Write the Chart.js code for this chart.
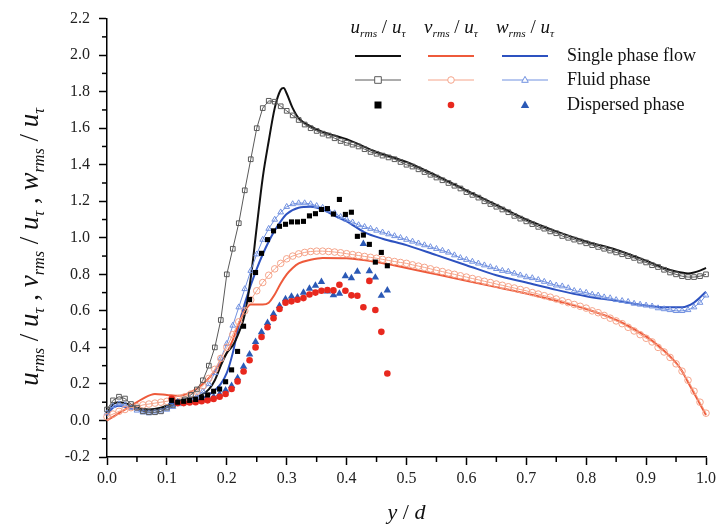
<!DOCTYPE html>
<html>
<head>
<meta charset="utf-8">
<script src="https://cdn.jsdelivr.net/npm/chart.js@4.4.1/dist/chart.umd.min.js"></script>
<style>
  html, body { margin: 0; background: #fff; }
</style>
</head>
<body>
<canvas id="rmsChart" width="720" height="529"></canvas>
<script>
// --- data ---
const xTickStep = 0.1;
const yTickStep = 0.2;

// single phase flow (solid lines)
const singleUX = [0, 0.01, 0.02, 0.03, 0.05, 0.07, 0.09, 0.11, 0.13, 0.15, 0.16, 0.17, 0.18, 0.19, 0.2, 0.21, 0.22, 0.23, 0.24, 0.25, 0.26, 0.27, 0.28, 0.29, 0.295, 0.3, 0.31, 0.32, 0.34, 0.36, 0.38, 0.4, 0.45, 0.5, 0.55, 0.6, 0.65, 0.7, 0.75, 0.8, 0.85, 0.9, 0.93, 0.95, 0.97, 0.98, 0.99, 1.0];
const singleU  = [0.04, 0.09, 0.1, 0.095, 0.07, 0.06, 0.07, 0.095, 0.115, 0.13, 0.145, 0.17, 0.22, 0.3, 0.37, 0.41, 0.48, 0.58, 0.78, 1.06, 1.33, 1.53, 1.71, 1.81, 1.82, 1.79, 1.71, 1.655, 1.61, 1.58, 1.56, 1.54, 1.47, 1.415, 1.34, 1.26, 1.18, 1.1, 1.035, 0.98, 0.935, 0.875, 0.835, 0.815, 0.805, 0.81, 0.82, 0.835];

const singleVX = [0, 0.02, 0.04, 0.06, 0.08, 0.1, 0.12, 0.14, 0.16, 0.18, 0.2, 0.21, 0.22, 0.23, 0.24, 0.25, 0.26, 0.27, 0.28, 0.29, 0.3, 0.31, 0.32, 0.34, 0.36, 0.4, 0.45, 0.5, 0.55, 0.6, 0.65, 0.7, 0.75, 0.8, 0.85, 0.88, 0.9, 0.92, 0.94, 0.95, 0.96, 0.97, 0.98, 0.99, 1.0];
const singleV  = [0.0, 0.04, 0.08, 0.12, 0.145, 0.14, 0.135, 0.155, 0.2, 0.27, 0.37, 0.44, 0.53, 0.6, 0.635, 0.635, 0.635, 0.645, 0.69, 0.75, 0.8, 0.835, 0.86, 0.88, 0.89, 0.888, 0.868, 0.835, 0.8, 0.765, 0.73, 0.695, 0.655, 0.61, 0.55, 0.5, 0.46, 0.41, 0.35, 0.315, 0.27, 0.21, 0.15, 0.09, 0.03];

const singleWX = [0, 0.01, 0.02, 0.03, 0.05, 0.07, 0.09, 0.11, 0.13, 0.15, 0.17, 0.19, 0.2, 0.21, 0.22, 0.23, 0.24, 0.25, 0.26, 0.27, 0.28, 0.29, 0.3, 0.32, 0.34, 0.36, 0.38, 0.4, 0.43, 0.46, 0.5, 0.55, 0.6, 0.65, 0.7, 0.75, 0.8, 0.85, 0.9, 0.93, 0.96, 0.98, 1.0];
const singleW  = [0.03, 0.07, 0.08, 0.075, 0.06, 0.055, 0.065, 0.08, 0.095, 0.11, 0.14, 0.2, 0.26, 0.37, 0.52, 0.64, 0.74, 0.83, 0.91, 0.98, 1.04, 1.09, 1.13, 1.165, 1.17, 1.155, 1.12, 1.09, 1.03, 0.995, 0.96, 0.905, 0.85, 0.795, 0.755, 0.715, 0.68, 0.655, 0.63, 0.62, 0.62, 0.645, 0.705];

// fluid phase (lines with open markers)
const fluidX = [0, 0.01, 0.02, 0.03, 0.04, 0.05, 0.06, 0.07, 0.08, 0.09, 0.1, 0.11, 0.12, 0.13, 0.14, 0.15, 0.16, 0.17, 0.18, 0.19, 0.2, 0.21, 0.22, 0.23, 0.24, 0.25, 0.26, 0.27, 0.28, 0.29, 0.3, 0.31, 0.32, 0.33, 0.34, 0.35, 0.36, 0.37, 0.38, 0.39, 0.4, 0.41, 0.42, 0.43, 0.44, 0.45, 0.46, 0.47, 0.48, 0.49, 0.5, 0.51, 0.52, 0.53, 0.54, 0.55, 0.56, 0.57, 0.58, 0.59, 0.6, 0.61, 0.62, 0.63, 0.64, 0.65, 0.66, 0.67, 0.68, 0.69, 0.7, 0.71, 0.72, 0.73, 0.74, 0.75, 0.76, 0.77, 0.78, 0.79, 0.8, 0.81, 0.82, 0.83, 0.84, 0.85, 0.86, 0.87, 0.88, 0.89, 0.9, 0.91, 0.92, 0.93, 0.94, 0.95, 0.96, 0.97, 0.98, 0.99, 1.0];
const fluidU = [0.06, 0.11, 0.13, 0.12, 0.09, 0.07, 0.05, 0.045, 0.045, 0.05, 0.07, 0.085, 0.1, 0.115, 0.14, 0.17, 0.22, 0.3, 0.4, 0.55, 0.8, 0.94, 1.08, 1.26, 1.43, 1.6, 1.71, 1.75, 1.745, 1.72, 1.695, 1.67, 1.645, 1.62, 1.6, 1.585, 1.57, 1.56, 1.545, 1.53, 1.52, 1.51, 1.5, 1.485, 1.47, 1.46, 1.45, 1.44, 1.43, 1.415, 1.4, 1.39, 1.375, 1.36, 1.345, 1.33, 1.315, 1.3, 1.285, 1.27, 1.25, 1.235, 1.22, 1.2, 1.185, 1.17, 1.155, 1.14, 1.12, 1.105, 1.09, 1.075, 1.06, 1.05, 1.035, 1.025, 1.01, 1.0, 0.99, 0.98, 0.97, 0.96, 0.95, 0.94, 0.93, 0.92, 0.91, 0.9, 0.89, 0.875, 0.865, 0.85, 0.84, 0.825, 0.81, 0.8, 0.79, 0.785, 0.785, 0.79, 0.8];
const fluidV = [0.02, 0.035, 0.05, 0.06, 0.07, 0.075, 0.085, 0.09, 0.095, 0.1, 0.105, 0.11, 0.12, 0.13, 0.145, 0.16, 0.19, 0.23, 0.28, 0.34, 0.4, 0.47, 0.54, 0.6, 0.66, 0.71, 0.755, 0.795, 0.83, 0.86, 0.885, 0.9, 0.912, 0.92, 0.925, 0.927, 0.927, 0.925, 0.922, 0.918, 0.913, 0.908, 0.903, 0.898, 0.893, 0.888, 0.882, 0.876, 0.87, 0.865, 0.86, 0.852, 0.845, 0.838, 0.83, 0.822, 0.815, 0.807, 0.8, 0.792, 0.785, 0.777, 0.77, 0.762, 0.755, 0.747, 0.74, 0.732, 0.725, 0.717, 0.71, 0.7, 0.692, 0.683, 0.675, 0.665, 0.655, 0.645, 0.635, 0.625, 0.615, 0.6, 0.59, 0.575, 0.56, 0.545, 0.53, 0.51, 0.49, 0.47, 0.45, 0.43, 0.4, 0.375, 0.345, 0.31, 0.27, 0.22, 0.16, 0.1, 0.04];
const fluidW = [0.04, 0.08, 0.09, 0.085, 0.07, 0.055, 0.045, 0.04, 0.045, 0.05, 0.06, 0.075, 0.09, 0.1, 0.115, 0.13, 0.16, 0.2, 0.26, 0.34, 0.42, 0.52, 0.62, 0.72, 0.82, 0.91, 0.99, 1.05, 1.1, 1.14, 1.17, 1.185, 1.19, 1.19, 1.185, 1.175, 1.165, 1.15, 1.135, 1.115, 1.1, 1.085, 1.07, 1.06, 1.05, 1.04, 1.03, 1.02, 1.01, 1.0, 0.99, 0.98, 0.97, 0.96, 0.95, 0.94, 0.93, 0.92, 0.905, 0.89, 0.88, 0.87, 0.86, 0.85, 0.84, 0.83, 0.82, 0.815, 0.805, 0.795, 0.785, 0.78, 0.77, 0.76, 0.75, 0.74, 0.735, 0.725, 0.71, 0.705, 0.7, 0.69, 0.685, 0.675, 0.67, 0.66, 0.655, 0.65, 0.64, 0.635, 0.63, 0.625, 0.615, 0.61, 0.605, 0.6, 0.6, 0.605, 0.62, 0.645, 0.685];

// dispersed phase (filled symbols)
const dispX = [0.108, 0.118, 0.128, 0.138, 0.148, 0.158, 0.168, 0.178, 0.188, 0.198, 0.208, 0.218, 0.228, 0.238, 0.248, 0.258, 0.268, 0.278, 0.288, 0.298, 0.308, 0.318, 0.328, 0.338, 0.348, 0.358, 0.368, 0.378, 0.388, 0.398, 0.408, 0.418, 0.428, 0.438, 0.448, 0.458, 0.468];
const dispU = [0.11, 0.1, 0.105, 0.11, 0.115, 0.125, 0.14, 0.16, 0.172, 0.212, 0.277, 0.378, 0.516, 0.662, 0.81, 0.915, 0.99, 1.038, 1.063, 1.074, 1.087, 1.087, 1.09, 1.12, 1.132, 1.155, 1.16, 1.13, 1.21, 1.128, 1.14, 1.008, 1.015, 0.964, 0.867, 0.92, 0.847];
const dispV = [0.118, 0.095, 0.095, 0.098, 0.1, 0.105, 0.11, 0.118, 0.13, 0.145, 0.172, 0.214, 0.268, 0.33, 0.4, 0.457, 0.51, 0.56, 0.61, 0.645, 0.652, 0.661, 0.67, 0.69, 0.7, 0.71, 0.714, 0.712, 0.743, 0.71, 0.685, 0.683, 0.62, 0.764, 0.605, 0.485, 0.257];
const dispW = [0.1, 0.1, 0.1, 0.105, 0.108, 0.112, 0.12, 0.13, 0.145, 0.165, 0.19, 0.232, 0.295, 0.362, 0.43, 0.484, 0.534, 0.583, 0.628, 0.665, 0.679, 0.674, 0.7, 0.722, 0.739, 0.759, 0.707, 0.686, 0.695, 0.79, 0.779, 0.815, 0.967, 0.818, 0.783, 0.683, 0.712];

const colors = {
  u: "#111111", uFluid: "#5a5a5a",
  v: "#ee5a3b", vFluid: "#f5a48a", vDisp: "#e8281e",
  w: "#2d52c0", wFluid: "#7191e0", wDisp: "#2b59b6"
};

const serif = '"Liberation Serif", "DejaVu Serif", serif';

function pts(xs, ys) {
  return xs.map((x, i) => ({ x: x, y: ys[i] }));
}

function solid(data, color) {
  return { data: data, borderColor: color, borderWidth: 2, showLine: true, pointRadius: 0,
    cubicInterpolationMode: "monotone", order: 3 };
}
function fluid(data, color, style) {
  return { data: data, borderColor: color, borderWidth: 1, showLine: true, pointStyle: style,
    pointRadius: 3.3, pointBorderWidth: 1, pointBorderColor: color, pointBackgroundColor: "rgba(255,255,255,0)",
    order: 2 };
}
function dispersed(data, color, style, r) {
  return { data: data, showLine: false, pointStyle: style, pointRadius: r, pointBorderWidth: 0,
    pointBackgroundColor: color, borderColor: color, order: 1 };
}

// rich text: segments of [text, isSub, upright]
function richWidth(ctx, segs, size) {
  let w = 0;
  segs.forEach(s => {
    ctx.font = (s[2] ? "" : "italic ") + (s[1] ? size * 0.6 : size) + "px " + serif;
    w += ctx.measureText(s[0]).width;
  });
  return w;
}
function drawRich(ctx, segs, x, y, size) {
  let cx = x;
  ctx.textBaseline = "alphabetic";
  ctx.textAlign = "left";
  segs.forEach(s => {
    ctx.font = (s[2] ? "" : "italic ") + (s[1] ? size * 0.6 : size) + "px " + serif;
    ctx.fillText(s[0], cx, s[1] ? y + size * 0.22 : y);
    cx += ctx.measureText(s[0]).width;
  });
}

function ratio(letter) {
  return [[letter, false], ["rms", true], [" / ", false, true], ["u", false], ["\u03c4", true]];
}

function marker(ctx, style, x, y, r, stroke, fill) {
  ctx.beginPath();
  if (style === "rect") {
    ctx.rect(x - r, y - r, 2 * r, 2 * r);
  } else if (style === "circle") {
    ctx.arc(x, y, r, 0, Math.PI * 2);
  } else {
    ctx.moveTo(x, y - r * 1.1);
    ctx.lineTo(x + r, y + r * 0.7);
    ctx.lineTo(x - r, y + r * 0.7);
    ctx.closePath();
  }
  if (fill) { ctx.fillStyle = fill; ctx.fill(); }
  if (stroke) { ctx.strokeStyle = stroke; ctx.lineWidth = 1; ctx.stroke(); }
}

const decorations = {
  id: "decorations",
  afterDraw(chart) {
    const ctx = chart.ctx;
    const xs = chart.scales.x, ys = chart.scales.y;
    ctx.save();
    // minor ticks
    ctx.strokeStyle = "#000";
    ctx.lineWidth = 1.5;
    for (let i = 0; i < 10; i++) {
      const px = xs.getPixelForValue(i * xTickStep + xTickStep / 2);
      ctx.beginPath(); ctx.moveTo(px, ys.bottom); ctx.lineTo(px, ys.bottom + 5); ctx.stroke();
    }
    for (let i = 0; i < 12; i++) {
      const py = ys.getPixelForValue(-0.2 + i * yTickStep + yTickStep / 2);
      ctx.beginPath(); ctx.moveTo(xs.left, py); ctx.lineTo(xs.left - 5, py); ctx.stroke();
    }

    ctx.fillStyle = "#111";
    // x title
    const xt = [["y", false], [" / ", false, true], ["d", false]];
    drawRich(ctx, xt, (xs.left + xs.right) / 2 - richWidth(ctx, xt, 22) / 2, 519, 22);

    // y title (rotated)
    const yt = ratio("u").concat([[" , ", false, true]], ratio("v"), [[" , ", false, true]], ratio("w"));
    ctx.save();
    ctx.translate(38, (ys.top + ys.bottom) / 2 + 9);
    ctx.rotate(-Math.PI / 2);
    drawRich(ctx, yt, -richWidth(ctx, yt, 27) / 2, 0, 27);
    ctx.restore();

    // legend
    const cols = [
      { cx: 378, letter: "u", line: colors.u, fl: colors.uFluid, sym: "rect", dc: "#000", dr: 3.5 },
      { cx: 451, letter: "v", line: colors.v, fl: colors.vFluid, sym: "circle", dc: colors.vDisp, dr: 3.3 },
      { cx: 525, letter: "w", line: colors.w, fl: colors.wFluid, sym: "triangle", dc: colors.wDisp, dr: 4.2 }
    ];
    cols.forEach(c => {
      const segs = ratio(c.letter);
      ctx.fillStyle = "#111";
      drawRich(ctx, segs, c.cx - richWidth(ctx, segs, 19) / 2, 33, 19);
      ctx.strokeStyle = c.line; ctx.lineWidth = 2;
      ctx.beginPath(); ctx.moveTo(c.cx - 23, 56); ctx.lineTo(c.cx + 23, 56); ctx.stroke();
      ctx.strokeStyle = c.fl; ctx.lineWidth = 1;
      ctx.beginPath(); ctx.moveTo(c.cx - 23, 80); ctx.lineTo(c.cx + 23, 80); ctx.stroke();
      marker(ctx, c.sym, c.cx, 80, 3.3, c.fl, "#fff");
      marker(ctx, c.sym, c.cx, 105, c.dr, null, c.dc);
    });
    ctx.fillStyle = "#111";
    ctx.font = "18px " + serif;
    ctx.textAlign = "left"; ctx.textBaseline = "middle";
    ctx.fillText("Single phase flow", 567, 56);
    ctx.fillText("Fluid phase", 567, 80);
    ctx.fillText("Dispersed phase", 567, 105);
    ctx.restore();
  }
};

const chart = new Chart(document.getElementById("rmsChart").getContext("2d"), {
  type: "scatter",
  data: {
    datasets: [
      dispersed(pts(dispX, dispU), "#000", "rect", 3.6),
      dispersed(pts(dispX, dispV), colors.vDisp, "circle", 3.3),
      dispersed(pts(dispX, dispW), colors.wDisp, "triangle", 4.3),
      fluid(pts(fluidX, fluidU), colors.uFluid, "rect"),
      fluid(pts(fluidX, fluidV), colors.vFluid, "circle"),
      fluid(pts(fluidX, fluidW), colors.wFluid, "triangle"),
      solid(pts(singleUX, singleU), colors.u),
      solid(pts(singleVX, singleV), colors.v),
      solid(pts(singleWX, singleW), colors.w)
    ]
  },
  options: {
    responsive: false,
    animation: false,
    devicePixelRatio: 1,
    layout: { padding: { top: 16, right: 14, left: 0, bottom: 0 } },
    plugins: { legend: { display: false }, tooltip: { enabled: false } },
    datasets: { scatter: { clip: false } },
    scales: {
      x: {
        type: "linear", min: 0, max: 1,
        afterFit: s => { s.height = 72; },
        ticks: { stepSize: xTickStep, padding: 4, color: "#222", font: { family: serif, size: 16 },
          callback: v => v.toFixed(1) },
        grid: { drawOnChartArea: false, drawTicks: true, tickLength: 8, tickColor: "#000", tickWidth: 1.5 },
        border: { display: true, color: "#000", width: 1.5 }
      },
      y: {
        type: "linear", min: -0.2, max: 2.2,
        afterFit: s => { s.width = 107; },
        ticks: { stepSize: yTickStep, padding: 9, color: "#222", font: { family: serif, size: 16 },
          callback: v => v.toFixed(1) },
        grid: { drawOnChartArea: false, drawTicks: true, tickLength: 8, tickColor: "#000", tickWidth: 1.5 },
        border: { display: true, color: "#000", width: 1.5 }
      }
    }
  },
  plugins: [decorations]
});
</script>
</body>
</html>
